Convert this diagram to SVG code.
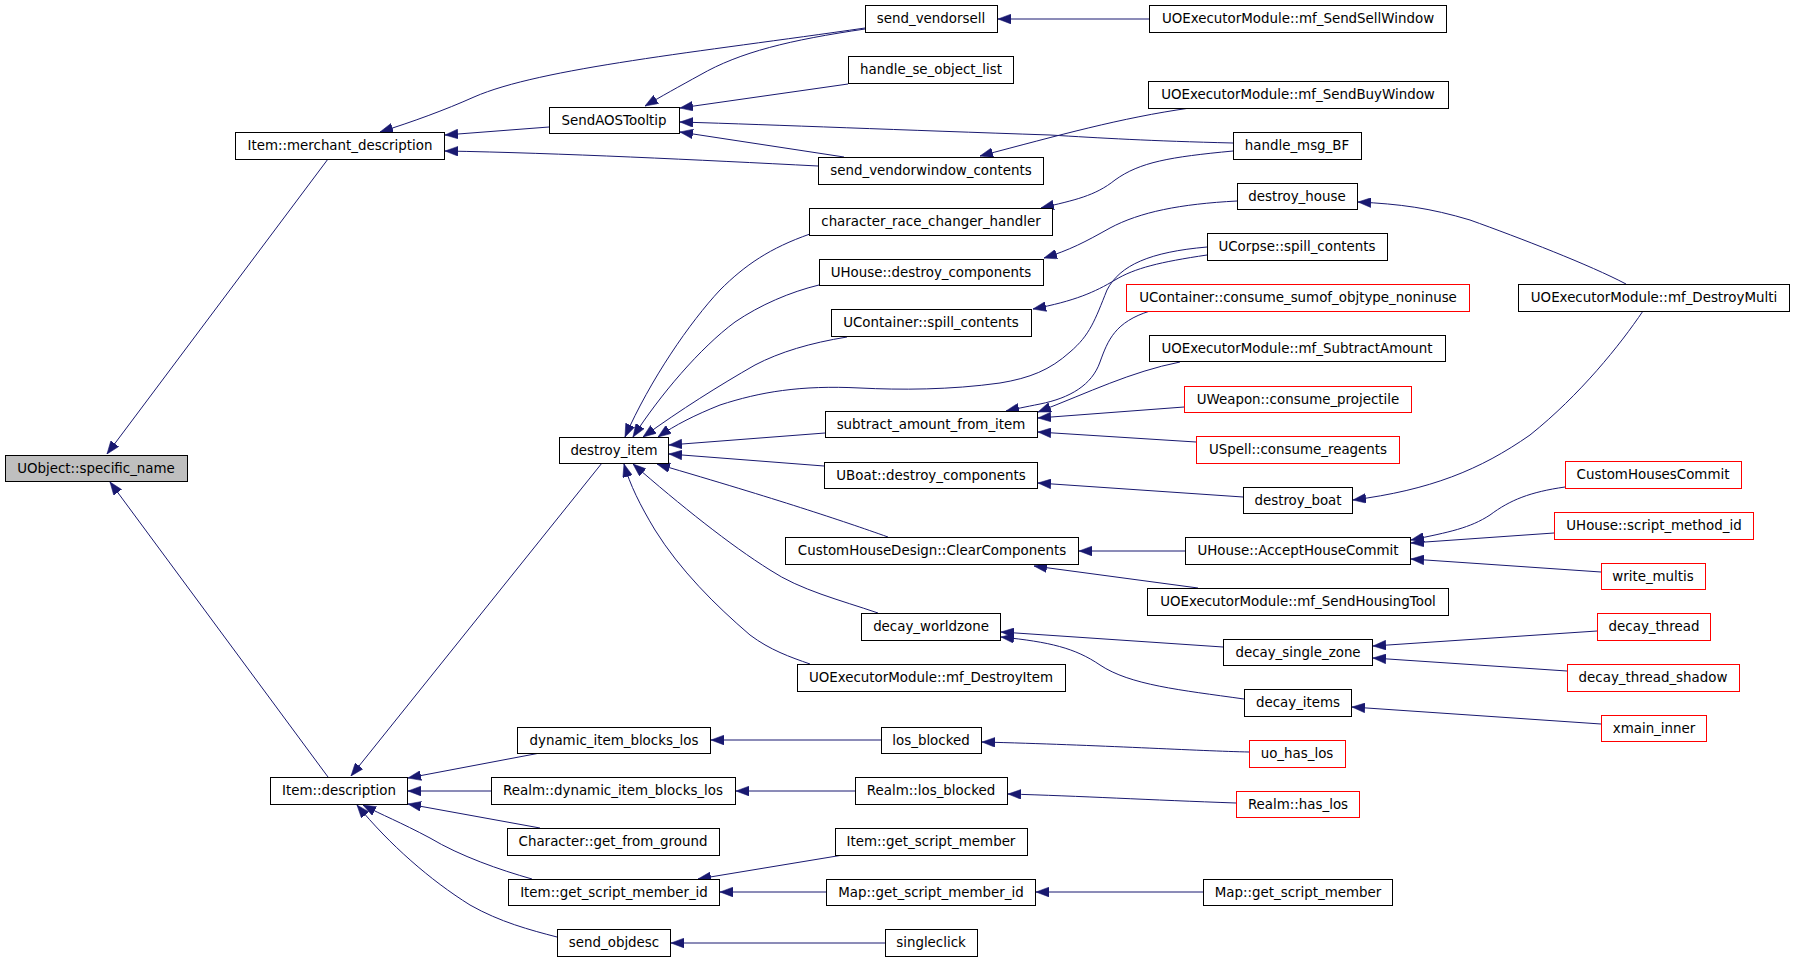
<svg xmlns="http://www.w3.org/2000/svg" width="1795" height="961" viewBox="0 0 1795 961">
<style>
.n rect{fill:#ffffff;stroke:#000000;stroke-width:1}
.n.r rect{stroke:#ff0000}
.n.g rect{fill:#bfbfbf}
.n text{font-family:"DejaVu Sans",sans-serif;font-size:13.4px;fill:#000000;text-anchor:middle}
#edges path{fill:none;stroke:#191970;stroke-width:1;marker-end:url(#ah)}
</style>
<defs>
<marker id="ah" markerUnits="userSpaceOnUse" markerWidth="13" markerHeight="10" refX="12" refY="4.5" orient="auto" viewBox="0 0 12 9">
<path d="M0,0 L12,4.5 L0,9 z" fill="#191970" stroke="#191970" stroke-width="0.5"/>
</marker>
</defs>
<rect width="1795" height="961" fill="#ffffff"/>
<g id="edges">
<path d="M328,159 L107,454"/>
<path d="M328,777 L110,482"/>
<path d="M602,463 L351,776"/>
<path d="M865,28 C700,52 540,68 474,97 C445,110 412,122 380,132"/>
<path d="M549,127 L445,135"/>
<path d="M818,166 C700,160 560,153 445,151"/>
<path d="M865,29 C790,40 740,52 700,75 C680,86 660,97 645,106"/>
<path d="M848,84 L680,108"/>
<path d="M1233,143 C1150,141 1100,138 1050,135 C900,130 780,125 680,122"/>
<path d="M844,157 L680,132"/>
<path d="M1149,19 L998,19"/>
<path d="M1190,108 C1120,118 1060,135 980,156"/>
<path d="M1233,151 C1170,157 1140,162 1115,180 C1095,196 1075,200 1041,208"/>
<path d="M1237,201 C1180,204 1140,212 1110,228 C1085,242 1070,250 1044,258"/>
<path d="M1207,255 C1160,262 1135,268 1115,280 C1095,292 1075,301 1033,309"/>
<path d="M1207,247 C1150,252 1120,265 1107,290 C1095,320 1090,335 1070,352 C1050,370 1030,378 1000,383 C950,390 900,390 860,388 C800,385 760,392 720,405 C695,415 675,425 658,437"/>
<path d="M1626,284 C1590,265 1520,238 1470,220 C1430,208 1400,204 1358,202"/>
<path d="M1643,311 C1620,345 1580,395 1530,435 C1480,470 1430,490 1353,500"/>
<path d="M810,234 C770,248 745,265 720,290 C690,322 650,380 625,437"/>
<path d="M819,285 C790,292 760,305 735,322 C700,348 660,395 633,437"/>
<path d="M847,337 C810,343 780,352 755,365 C720,385 680,410 643,437"/>
<path d="M825,433 L669,445"/>
<path d="M824,466 L669,454"/>
<path d="M888,537 C840,520 780,500 657,464"/>
<path d="M878,613 C840,600 800,590 770,570 C730,545 680,505 633,464"/>
<path d="M810,664 C790,657 770,650 750,635 C715,605 680,570 655,530 C640,505 630,485 624,464"/>
<path d="M1150,311 C1115,322 1108,340 1100,362 C1092,385 1070,398 1040,404 C1025,407 1015,409 1006,411"/>
<path d="M1180,362 C1130,372 1090,392 1038,412"/>
<path d="M1184,407 L1038,418"/>
<path d="M1196,442 L1038,432"/>
<path d="M1243,497 L1038,483"/>
<path d="M1185,551 L1079,551"/>
<path d="M1198,588 L1034,566"/>
<path d="M1565,487 C1530,492 1510,500 1490,515 C1470,528 1450,532 1411,540"/>
<path d="M1554,533 L1411,543"/>
<path d="M1601,572 L1411,559"/>
<path d="M1223,647 L1001,632"/>
<path d="M1244,699 C1180,690 1130,685 1100,665 C1075,648 1050,642 1001,637"/>
<path d="M1597,631 L1373,646"/>
<path d="M1567,671 L1373,658"/>
<path d="M1601,724 L1352,707"/>
<path d="M540,753 L408,778"/>
<path d="M881,740 L711,740"/>
<path d="M1249,752 C1200,751 1100,745 982,742"/>
<path d="M491,791 L408,791"/>
<path d="M855,791 L736,791"/>
<path d="M1236,803 C1150,800 1080,796 1008,794"/>
<path d="M540,828 L408,804"/>
<path d="M532,879 C500,870 460,856 430,838 C400,822 382,815 363,805"/>
<path d="M557,937 C530,930 500,922 470,905 C430,880 390,845 357,805"/>
<path d="M843,855 L698,879"/>
<path d="M826,892 L720,892"/>
<path d="M1203,892 L1036,892"/>
<path d="M885,943 L671,943"/>
</g>
<g id="n_specific_name" class="n g"><rect x="5.5" y="455.5" width="182" height="26"/><text x="96" y="473">UObject::specific_name</text></g>
<g id="n_merchant_description" class="n"><rect x="235.5" y="132.5" width="209" height="27"/><text x="340" y="150">Item::merchant_description</text></g>
<g id="n_description" class="n"><rect x="270.5" y="777.5" width="137" height="27"/><text x="339" y="795">Item::description</text></g>
<g id="n_send_vendorsell" class="n"><rect x="865.5" y="5.5" width="132" height="27"/><text x="931" y="23">send_vendorsell</text></g>
<g id="n_SendSellWindow" class="n"><rect x="1149.5" y="5.5" width="297" height="27"/><text x="1298" y="23">UOExecutorModule::mf_SendSellWindow</text></g>
<g id="n_handle_se_object_list" class="n"><rect x="848.5" y="56.5" width="165" height="27"/><text x="931" y="74">handle_se_object_list</text></g>
<g id="n_SendAOSTooltip" class="n"><rect x="549.5" y="107.5" width="130" height="26"/><text x="614" y="125">SendAOSTooltip</text></g>
<g id="n_SendBuyWindow" class="n"><rect x="1148.5" y="81.5" width="300" height="27"/><text x="1298" y="99">UOExecutorModule::mf_SendBuyWindow</text></g>
<g id="n_handle_msg_BF" class="n"><rect x="1233.5" y="132.5" width="128" height="27"/><text x="1297" y="150">handle_msg_BF</text></g>
<g id="n_send_vendorwindow_contents" class="n"><rect x="818.5" y="157.5" width="225" height="27"/><text x="931" y="175">send_vendorwindow_contents</text></g>
<g id="n_character_race_changer_handler" class="n"><rect x="809.5" y="208.5" width="243" height="27"/><text x="931" y="226">character_race_changer_handler</text></g>
<g id="n_destroy_house" class="n"><rect x="1237.5" y="183.5" width="120" height="26"/><text x="1297" y="201">destroy_house</text></g>
<g id="n_UHouse_destroy_components" class="n"><rect x="819.5" y="259.5" width="224" height="26"/><text x="931" y="277">UHouse::destroy_components</text></g>
<g id="n_UCorpse_spill_contents" class="n"><rect x="1207.5" y="233.5" width="180" height="27"/><text x="1297" y="251">UCorpse::spill_contents</text></g>
<g id="n_UContainer_spill_contents" class="n"><rect x="831.5" y="309.5" width="200" height="27"/><text x="931" y="327">UContainer::spill_contents</text></g>
<g id="n_consume_sumof" class="n r"><rect x="1126.5" y="284.5" width="343" height="27"/><text x="1298" y="302">UContainer::consume_sumof_objtype_noninuse</text></g>
<g id="n_mf_DestroyMulti" class="n"><rect x="1518.5" y="284.5" width="271" height="27"/><text x="1654" y="302">UOExecutorModule::mf_DestroyMulti</text></g>
<g id="n_mf_SubtractAmount" class="n"><rect x="1149.5" y="335.5" width="296" height="26"/><text x="1297" y="353">UOExecutorModule::mf_SubtractAmount</text></g>
<g id="n_destroy_item" class="n"><rect x="559.5" y="437.5" width="109" height="26"/><text x="614" y="455">destroy_item</text></g>
<g id="n_subtract_amount_from_item" class="n"><rect x="825.5" y="411.5" width="212" height="26"/><text x="931" y="429">subtract_amount_from_item</text></g>
<g id="n_UWeapon_consume_projectile" class="n r"><rect x="1184.5" y="386.5" width="227" height="26"/><text x="1298" y="404">UWeapon::consume_projectile</text></g>
<g id="n_USpell_consume_reagents" class="n r"><rect x="1196.5" y="436.5" width="203" height="27"/><text x="1298" y="454">USpell::consume_reagents</text></g>
<g id="n_UBoat_destroy_components" class="n"><rect x="824.5" y="462.5" width="213" height="26"/><text x="931" y="480">UBoat::destroy_components</text></g>
<g id="n_CustomHousesCommit" class="n r"><rect x="1565.5" y="461.5" width="176" height="27"/><text x="1653" y="479">CustomHousesCommit</text></g>
<g id="n_destroy_boat" class="n"><rect x="1243.5" y="487.5" width="109" height="26"/><text x="1298" y="505">destroy_boat</text></g>
<g id="n_UHouse_script_method_id" class="n r"><rect x="1554.5" y="512.5" width="199" height="27"/><text x="1654" y="530">UHouse::script_method_id</text></g>
<g id="n_ClearComponents" class="n"><rect x="785.5" y="537.5" width="293" height="27"/><text x="932" y="555">CustomHouseDesign::ClearComponents</text></g>
<g id="n_AcceptHouseCommit" class="n"><rect x="1185.5" y="537.5" width="225" height="27"/><text x="1298" y="555">UHouse::AcceptHouseCommit</text></g>
<g id="n_write_multis" class="n r"><rect x="1601.5" y="563.5" width="104" height="26"/><text x="1653" y="581">write_multis</text></g>
<g id="n_mf_SendHousingTool" class="n"><rect x="1147.5" y="588.5" width="301" height="27"/><text x="1298" y="606">UOExecutorModule::mf_SendHousingTool</text></g>
<g id="n_decay_worldzone" class="n"><rect x="861.5" y="613.5" width="139" height="27"/><text x="931" y="631">decay_worldzone</text></g>
<g id="n_decay_thread" class="n r"><rect x="1597.5" y="613.5" width="113" height="27"/><text x="1654" y="631">decay_thread</text></g>
<g id="n_decay_single_zone" class="n"><rect x="1223.5" y="639.5" width="149" height="26"/><text x="1298" y="657">decay_single_zone</text></g>
<g id="n_decay_thread_shadow" class="n r"><rect x="1567.5" y="664.5" width="172" height="27"/><text x="1653" y="682">decay_thread_shadow</text></g>
<g id="n_mf_DestroyItem" class="n"><rect x="797.5" y="664.5" width="268" height="27"/><text x="931" y="682">UOExecutorModule::mf_DestroyItem</text></g>
<g id="n_decay_items" class="n"><rect x="1244.5" y="689.5" width="107" height="27"/><text x="1298" y="707">decay_items</text></g>
<g id="n_xmain_inner" class="n r"><rect x="1601.5" y="715.5" width="105" height="26"/><text x="1654" y="733">xmain_inner</text></g>
<g id="n_dynamic_item_blocks_los" class="n"><rect x="517.5" y="727.5" width="193" height="26"/><text x="614" y="745">dynamic_item_blocks_los</text></g>
<g id="n_los_blocked" class="n"><rect x="881.5" y="727.5" width="100" height="26"/><text x="931" y="745">los_blocked</text></g>
<g id="n_uo_has_los" class="n r"><rect x="1249.5" y="740.5" width="96" height="27"/><text x="1297" y="758">uo_has_los</text></g>
<g id="n_Realm_dynamic_item_blocks_los" class="n"><rect x="491.5" y="777.5" width="244" height="27"/><text x="613" y="795">Realm::dynamic_item_blocks_los</text></g>
<g id="n_Realm_los_blocked" class="n"><rect x="855.5" y="777.5" width="152" height="27"/><text x="931" y="795">Realm::los_blocked</text></g>
<g id="n_Realm_has_los" class="n r"><rect x="1236.5" y="791.5" width="123" height="26"/><text x="1298" y="809">Realm::has_los</text></g>
<g id="n_Character_get_from_ground" class="n"><rect x="507.5" y="828.5" width="212" height="27"/><text x="613" y="846">Character::get_from_ground</text></g>
<g id="n_Item_get_script_member" class="n"><rect x="835.5" y="828.5" width="192" height="27"/><text x="931" y="846">Item::get_script_member</text></g>
<g id="n_Item_get_script_member_id" class="n"><rect x="508.5" y="879.5" width="211" height="26"/><text x="614" y="897">Item::get_script_member_id</text></g>
<g id="n_Map_get_script_member_id" class="n"><rect x="826.5" y="879.5" width="209" height="26"/><text x="931" y="897">Map::get_script_member_id</text></g>
<g id="n_Map_get_script_member" class="n"><rect x="1203.5" y="879.5" width="189" height="26"/><text x="1298" y="897">Map::get_script_member</text></g>
<g id="n_send_objdesc" class="n"><rect x="557.5" y="929.5" width="113" height="27"/><text x="614" y="947">send_objdesc</text></g>
<g id="n_singleclick" class="n"><rect x="885.5" y="929.5" width="92" height="27"/><text x="931" y="947">singleclick</text></g>
</svg>
